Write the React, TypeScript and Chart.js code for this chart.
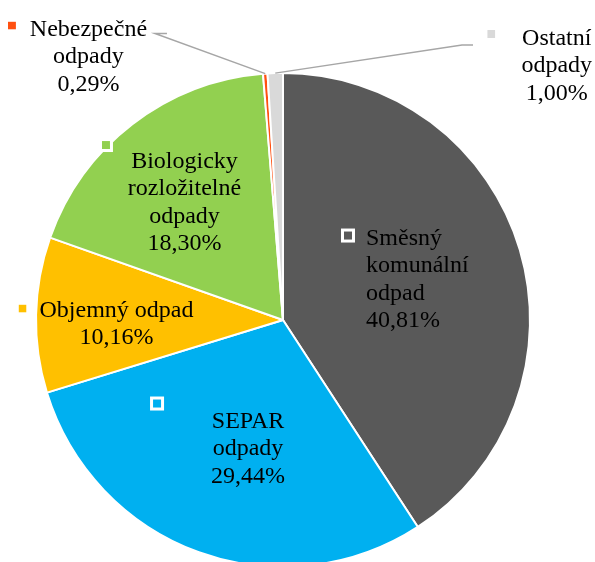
import React, { useEffect, useRef } from "react";
import { Chart, registerables } from "chart.js";

Chart.register(...registerables);

const categories = [
  "Směsný komunální odpad",
  "SEPAR odpady",
  "Objemný odpad",
  "Biologicky rozložitelné odpady",
  "Nebezpečné odpady",
  "Ostatní odpady",
];
const values = [40.81, 29.44, 10.16, 18.3, 0.29, 1.0];
const labelLines = [
  ["Směsný", "komunální", "odpad"],
  ["SEPAR", "odpady"],
  ["Objemný odpad"],
  ["Biologicky", "rozložitelné", "odpady"],
  ["Nebezpečné", "odpady"],
  ["Ostatní", "odpady"],
];
const colors = ["#595959", "#00B0F0", "#FFC000", "#92D050", "#FF5010", "#D9D9D9"];

const fmt = (v: number) => v.toFixed(2).replace(".", ",") + "%";

type Layout = {
  frac: number;
  align: CanvasTextAlign;
  tx: number;
  ty: number;
  kx: number;
  ky: number;
  leader?: [number, number][];
};

// offsets relative to anchor point on the slice's mid-angle
const layouts: Layout[] = [
  { frac: 0.5, align: "left", tx: -35.4, ty: -39.8, kx: -53.4, ky: -49.3 },
  { frac: 0.5, align: "center", tx: 7.1, ty: -8.1, kx: -83.9, ky: -32.6 },
  { frac: 0.5, align: "center", tx: -43, ty: -0.4, kx: -137, ky: -8.9 },
  { frac: 0.5, align: "center", tx: -23.2, ty: -54.1, kx: -101.7, ky: -77.1 },
  {
    frac: 1,
    align: "center",
    tx: -176.8,
    ty: -37.6,
    kx: -253.3,
    ky: -48.1,
    leader: [
      [-110.3, -40.1],
      [-98.3, -40.1],
    ],
  },
  {
    frac: 1,
    align: "center",
    tx: 281.5,
    ty: -28.1,
    kx: 216,
    ky: -39.1,
    leader: [
      [186.8, -28.1],
      [197.8, -28.1],
    ],
  },
];

const labelPlugin = {
  id: "sliceLabels",
  afterDatasetsDraw(chart: any) {
    const ctx = chart.ctx as CanvasRenderingContext2D;
    const meta = chart.getDatasetMeta(0);
    const lh = 27.3;
    meta.data.forEach((arc: any, i: number) => {
      const p = arc.getProps(["x", "y", "startAngle", "endAngle", "outerRadius"], true);
      const mid = (p.startAngle + p.endAngle) / 2;
      const L = layouts[i];
      const ax = p.x + Math.cos(mid) * p.outerRadius * L.frac;
      const ay = p.y + Math.sin(mid) * p.outerRadius * L.frac;
      ctx.save();
      if (L.leader) {
        ctx.strokeStyle = "#A6A6A6";
        ctx.lineWidth = 1.5;
        ctx.beginPath();
        ctx.moveTo(ax, ay);
        for (const [dx, dy] of L.leader) ctx.lineTo(ax + dx, ay + dy);
        ctx.stroke();
      }
      // legend key
      const kx = ax + L.kx;
      const ky = ay + L.ky;
      ctx.fillStyle = colors[i];
      ctx.fillRect(kx - 4, ky - 4, 8, 8);
      ctx.strokeStyle = "#FFFFFF";
      ctx.lineWidth = 3;
      ctx.strokeRect(kx - 5.5, ky - 5.5, 11, 11);
      // text
      ctx.fillStyle = "#000000";
      ctx.font = '24px "Liberation Serif", "Times New Roman", serif';
      ctx.textAlign = L.align;
      ctx.textBaseline = "alphabetic";
      const lines = [...labelLines[i], fmt(values[i])];
      lines.forEach((t, j) => {
        ctx.fillText(t, ax + L.tx, ay + L.ty + j * lh);
      });
      ctx.restore();
    });
  },
};

export default function App() {
  const ref = useRef<HTMLCanvasElement | null>(null);
  useEffect(() => {
    if (!ref.current) return;
    const chart = new Chart(ref.current, {
      type: "pie",
      data: {
        labels: categories,
        datasets: [
          {
            data: values,
            backgroundColor: colors,
            borderColor: "#FFFFFF",
            borderWidth: 2,
          },
        ],
      },
      options: {
        responsive: false,
        animation: false,
        layout: { padding: { left: 35, right: 64, top: 72, bottom: 32 } },
        plugins: {
          legend: { display: false },
          tooltip: { enabled: false },
          title: { display: false },
        },
      },
      plugins: [labelPlugin],
    });
    return () => chart.destroy();
  }, []);
  return (
    <div
      style={{
        position: "fixed",
        left: 0,
        top: 0,
        width: 595,
        height: 562,
        overflow: "hidden",
        background: "#FFFFFF",
      }}
    >
      <canvas ref={ref} width={595} height={600} style={{ display: "block" }} />
    </div>
  );
}
